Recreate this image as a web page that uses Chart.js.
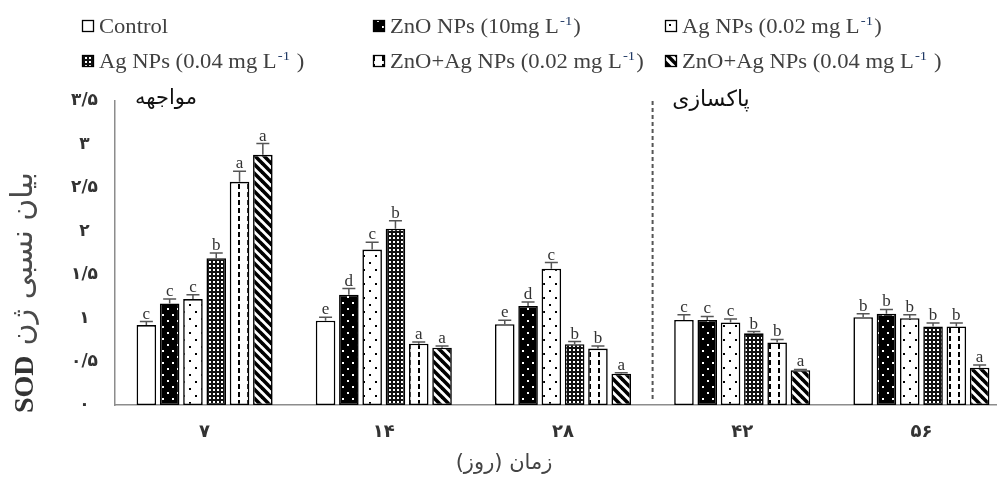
<!DOCTYPE html>
<html>
<head>
<meta charset="utf-8">
<script src="https://cdn.jsdelivr.net/npm/chart.js@4.4.1/dist/chart.umd.min.js"></script>
<style>
  html, body { margin: 0; padding: 0; background: #fff; overflow: hidden; width: 997px; height: 484px; }
  canvas { display: block; }
</style>
</head>
<body>
<canvas id="sod" width="1011" height="484"></canvas>
<script>
// Sampling days (x categories) and y tick labels, written with Persian digits
const days = ['۷', '۱۴', '۲۸', '۴۲', '۵۶'];
const yTickLabels = ['۰', '۰/۵', '۱', '۱/۵', '۲', '۲/۵', '۳', '۳/۵'];

// Legend texts: main part, superscript, closing part
const seriesNames = ['Control', 'ZnO NPs (10mg L', 'Ag NPs (0.02 mg L', 'Ag NPs (0.04 mg L', 'ZnO+Ag NPs (0.02 mg L', 'ZnO+Ag NPs (0.04 mg L'];
const seriesSup = ['', '-1', '-1', '-1', '-1', '-1'];
const seriesTail = ['', ')', ')', ' )', ')', ' )'];

// Relative SOD gene expression per treatment
const control = [0.92, 0.97, 0.93, 0.98, 1.01];
const zno = [1.17, 1.27, 1.14, 0.98, 1.05];
const ag002 = [1.22, 1.79, 1.57, 0.95, 1.00];
const ag004 = [1.69, 2.03, 0.70, 0.825, 0.905];
const znoAg002 = [2.57, 0.705, 0.65, 0.72, 0.905];
const znoAg004 = [2.88, 0.66, 0.36, 0.40, 0.43];

// Standard errors
const controlErr = [0.04, 0.04, 0.045, 0.06, 0.04];
const znoErr = [0.05, 0.07, 0.045, 0.04, 0.05];
const ag002Err = [0.05, 0.085, 0.07, 0.04, 0.04];
const ag004Err = [0.06, 0.09, 0.03, 0.02, 0.04];
const znoAg002Err = [0.12, 0.02, 0.03, 0.035, 0.04];
const znoAg004Err = [0.13, 0.02, 0.01, 0.01, 0.03];

// Significance letters
const controlSig = ['c', 'e', 'e', 'c', 'b'];
const znoSig = ['c', 'd', 'd', 'c', 'b'];
const ag002Sig = ['c', 'c', 'c', 'c', 'b'];
const ag004Sig = ['b', 'b', 'b', 'b', 'b'];
const znoAg002Sig = ['a', 'a', 'b', 'b', 'b'];
const znoAg004Sig = ['a', 'a', 'a', 'a', 'a'];

// Phase labels and axis titles
const phaseExposure = 'مواجهه';
const phaseRecovery = 'پاکسازی';
const xTitle = 'زمان (روز)';
const yTitleLatin = 'SOD';
const yTitlePersian = 'بیان نسبی ژن';

// ---- fill patterns ----
function makePattern(w, h, paint) {
  const c = document.createElement('canvas');
  c.width = w; c.height = h;
  const g = c.getContext('2d');
  paint(g, w, h);
  return g.createPattern(c, 'repeat');
}
const patWhite = '#ffffff';
const patZnO = makePattern(10, 12, (g, w, h) => {
  g.fillStyle = '#000'; g.fillRect(0, 0, w, h);
  g.fillStyle = '#fff'; g.fillRect(2, 2, 2, 2); g.fillRect(7, 8, 2, 2);
});
const patAg002 = makePattern(12, 14, (g, w, h) => {
  g.fillStyle = '#fff'; g.fillRect(0, 0, w, h);
  g.fillStyle = '#000'; g.fillRect(3, 3, 2, 2); g.fillRect(9, 10, 2, 2);
});
const patAg004 = makePattern(4, 4, (g, w, h) => {
  g.fillStyle = '#111'; g.fillRect(0, 0, w, h);
  g.fillStyle = '#fff'; g.fillRect(1, 1, 2, 2);
});
const patZnOAg002 = makePattern(9, 8, (g, w, h) => {
  g.fillStyle = '#fff'; g.fillRect(0, 0, w, h);
  g.fillStyle = '#000'; g.fillRect(4, 0, 2, 5);
});
const patZnOAg004 = makePattern(9, 9, (g, w, h) => {
  g.fillStyle = '#fff'; g.fillRect(0, 0, w, h);
  g.strokeStyle = '#000'; g.lineWidth = 3.6; g.lineCap = 'square';
  [-9, 0, 9].forEach(k => {
    g.beginPath(); g.moveTo(k - 2, -2); g.lineTo(k + 11, 11); g.stroke();
  });
});
const fills = [patWhite, patZnO, patAg002, patAg004, patZnOAg002, patZnOAg004];

const values = [control, zno, ag002, ag004, znoAg002, znoAg004];
const errors = [controlErr, znoErr, ag002Err, ag004Err, znoAg002Err, znoAg004Err];
const letters = [controlSig, znoSig, ag002Sig, ag004Sig, znoAg002Sig, znoAg004Sig];

const datasets = values.map((v, i) => ({
  label: seriesNames[i] + seriesSup[i] + seriesTail[i],
  data: v,
  backgroundColor: fills[i],
  borderColor: '#000',
  borderWidth: 1.6,
  borderSkipped: false,
  categoryPercentage: 0.78,
  barPercentage: 0.84
}));

const PERSIAN = '"DejaVu Sans", "Noto Sans", sans-serif';
const SERIF = '"Liberation Serif", "DejaVu Serif", serif';

// error bars, letters, phase divider, titles and legend
const decorations = {
  id: 'decorations',
  beforeDatasetsDraw(chart) {
    const { ctx, chartArea, scales: { x } } = chart;
    const xs = (x.getPixelForValue(2) + x.getPixelForValue(3)) / 2;
    ctx.save();
    ctx.strokeStyle = '#555';
    ctx.lineWidth = 2;
    ctx.setLineDash([4, 3]);
    ctx.beginPath();
    ctx.moveTo(xs, chartArea.top);
    ctx.lineTo(xs, chartArea.bottom - 5);
    ctx.stroke();
    ctx.restore();
  },
  afterDatasetsDraw(chart) {
    const { ctx, scales: { y } } = chart;
    ctx.save();
    values.forEach((series, di) => {
      const meta = chart.getDatasetMeta(di);
      meta.data.forEach((bar, i) => {
        const top = y.getPixelForValue(series[i] + errors[di][i]);
        ctx.strokeStyle = '#555';
        ctx.lineWidth = 1.5;
        ctx.beginPath();
        ctx.moveTo(bar.x, bar.y);
        ctx.lineTo(bar.x, top);
        ctx.moveTo(bar.x - 6.5, top);
        ctx.lineTo(bar.x + 6.5, top);
        ctx.stroke();
        ctx.fillStyle = '#333';
        ctx.font = '17px ' + SERIF;
        ctx.textAlign = 'center';
        ctx.textBaseline = 'alphabetic';
        ctx.fillText(letters[di][i], bar.x, top - 3);
      });
    });
    ctx.restore();
  },
  afterDraw(chart) {
    const { ctx } = chart;
    ctx.save();
    // phase labels
    ctx.fillStyle = '#111';
    ctx.textAlign = 'center';
    ctx.textBaseline = 'middle';
    ctx.direction = 'rtl';
    ctx.font = '21px ' + PERSIAN;
    ctx.fillText(phaseExposure, 166, 99);
    ctx.font = '22px ' + PERSIAN;
    ctx.fillText(phaseRecovery, 711, 100);

    // x axis title
    ctx.fillStyle = '#444';
    ctx.font = '21px ' + PERSIAN;
    ctx.fillText(xTitle, 504, 464);
    ctx.direction = 'ltr';

    // y axis title (rotated)
    ctx.save();
    ctx.translate(25, 413);
    ctx.rotate(-Math.PI / 2);
    ctx.textAlign = 'left';
    ctx.textBaseline = 'middle';
    ctx.fillStyle = '#333';
    ctx.font = 'bold 28px ' + SERIF;
    ctx.fillText(yTitleLatin, 0, 1);
    const w = ctx.measureText(yTitleLatin).width;
    ctx.fillStyle = '#4a4a4a';
    ctx.font = '30px ' + PERSIAN;
    ctx.fillText(yTitlePersian, w + 10, -1);
    ctx.restore();

    // legend
    const cols = [82, 373, 665];
    const rows = [26, 61];
    seriesNames.forEach((name, i) => {
      const bx = cols[i % 3];
      const cy = rows[Math.floor(i / 3)];
      ctx.fillStyle = fills[i];
      ctx.fillRect(bx, cy - 6, 12, 12);
      ctx.strokeStyle = '#000';
      ctx.lineWidth = 1.3;
      ctx.strokeRect(bx + 0.5, cy - 5.5, 11, 11);
      ctx.save();
      ctx.translate(bx + 17, cy + 7);
      ctx.scale(1.13, 1);
      ctx.textAlign = 'left';
      ctx.textBaseline = 'alphabetic';
      ctx.fillStyle = '#404040';
      ctx.font = '20px ' + SERIF;
      ctx.fillText(name, 0, 0);
      let px = ctx.measureText(name).width + 1;
      if (seriesSup[i]) {
        ctx.font = '13px ' + SERIF;
        ctx.fillStyle = '#1f3864';
        ctx.fillText(seriesSup[i], px, -8);
        px += ctx.measureText(seriesSup[i]).width + 1;
        ctx.font = '20px ' + SERIF;
        ctx.fillStyle = '#404040';
        ctx.fillText(seriesTail[i], px, 0);
      }
      ctx.restore();
    });
    ctx.restore();
  }
};

new Chart(document.getElementById('sod'), {
  type: 'bar',
  data: { labels: days, datasets },
  options: {
    responsive: false,
    animation: false,
    devicePixelRatio: 1,
    layout: { padding: { top: 101, left: 0, right: 0, bottom: 0 } },
    plugins: { legend: { display: false }, tooltip: { enabled: false }, title: { display: false } },
    scales: {
      x: {
        grid: { display: false },
        border: { display: true, color: '#8c8c8c', width: 1.5 },
        ticks: { color: '#333', font: { family: PERSIAN, size: 18, weight: 'bold' }, padding: 9, maxRotation: 0 },
        afterFit(scale) { scale.height = 79; }
      },
      y: {
        min: 0,
        max: 3.5,
        grid: { display: false },
        border: { display: true, color: '#8c8c8c', width: 1.5 },
        ticks: {
          stepSize: 0.5,
          color: '#333',
          font: { family: PERSIAN, size: 17, weight: 'bold' },
          padding: 9,
          crossAlign: 'center',
          callback: (v, i) => yTickLabels[i]
        },
        afterFit(scale) { scale.width = 115; }
      }
    }
  },
  plugins: [decorations]
});
</script>
</body>
</html>
